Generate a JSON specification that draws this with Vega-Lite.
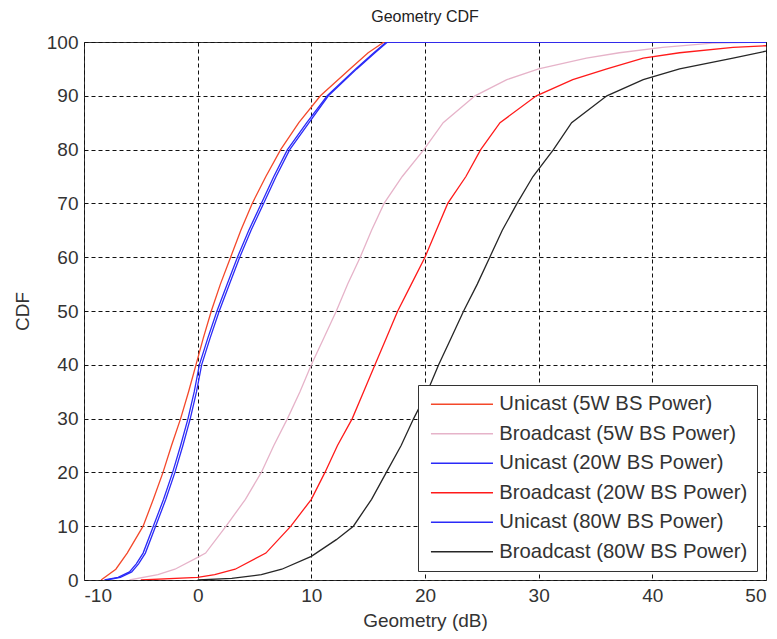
{
  "$schema": "https://vega.github.io/schema/vega-lite/v6.json",
  "width": 682,
  "height": 538,
  "autosize": "none",
  "padding": {"left": 84, "top": 42, "right": 11, "bottom": 59},
  "background": "white",
  "title": {"text": "Geometry CDF", "fontSize": 16, "fontWeight": "normal", "font": "Liberation Sans", "color": "#222", "offset": 8},
  "config": {
    "view": {"stroke": "#333", "strokeWidth": 1},
    "axis": {
      "labelFont": "Liberation Sans", "labelFontSize": 19, "labelColor": "#333",
      "titleFont": "Liberation Sans", "titleFontSize": 19, "titleFontWeight": "normal", "titleColor": "#333",
      "grid": true, "gridColor": "#111", "gridDash": [4, 3], "gridWidth": 1, "gridOpacity": 1,
      "ticks": false, "domain": false, "labelPadding": 6
    }
  },
  "data": {"values": [
    {"s": "Unicast (5W BS Power)", "x": -8.5, "y": 0},
    {"s": "Unicast (5W BS Power)", "x": -7.2, "y": 2},
    {"s": "Unicast (5W BS Power)", "x": -6.2, "y": 5},
    {"s": "Unicast (5W BS Power)", "x": -4.8, "y": 10},
    {"s": "Unicast (5W BS Power)", "x": -3.9, "y": 15},
    {"s": "Unicast (5W BS Power)", "x": -3.05, "y": 20},
    {"s": "Unicast (5W BS Power)", "x": -2.3, "y": 25},
    {"s": "Unicast (5W BS Power)", "x": -1.5, "y": 30},
    {"s": "Unicast (5W BS Power)", "x": -0.8, "y": 35},
    {"s": "Unicast (5W BS Power)", "x": -0.15, "y": 40},
    {"s": "Unicast (5W BS Power)", "x": 0.5, "y": 45},
    {"s": "Unicast (5W BS Power)", "x": 1.2, "y": 50},
    {"s": "Unicast (5W BS Power)", "x": 2.0, "y": 55},
    {"s": "Unicast (5W BS Power)", "x": 2.9, "y": 60},
    {"s": "Unicast (5W BS Power)", "x": 3.8, "y": 65},
    {"s": "Unicast (5W BS Power)", "x": 4.8, "y": 70},
    {"s": "Unicast (5W BS Power)", "x": 6.0, "y": 75},
    {"s": "Unicast (5W BS Power)", "x": 7.3, "y": 80},
    {"s": "Unicast (5W BS Power)", "x": 8.9, "y": 85},
    {"s": "Unicast (5W BS Power)", "x": 10.8, "y": 90},
    {"s": "Unicast (5W BS Power)", "x": 13.4, "y": 95},
    {"s": "Unicast (5W BS Power)", "x": 15.0, "y": 98},
    {"s": "Unicast (5W BS Power)", "x": 16.4, "y": 100},
    {"s": "Unicast (5W BS Power)", "x": 50, "y": 100},

    {"s": "Broadcast (5W BS Power)", "x": -6.0, "y": 0},
    {"s": "Broadcast (5W BS Power)", "x": -3.5, "y": 1},
    {"s": "Broadcast (5W BS Power)", "x": -2.0, "y": 2},
    {"s": "Broadcast (5W BS Power)", "x": 0.0, "y": 4.2},
    {"s": "Broadcast (5W BS Power)", "x": 0.7, "y": 5},
    {"s": "Broadcast (5W BS Power)", "x": 2.5, "y": 10},
    {"s": "Broadcast (5W BS Power)", "x": 4.2, "y": 15},
    {"s": "Broadcast (5W BS Power)", "x": 5.6, "y": 20},
    {"s": "Broadcast (5W BS Power)", "x": 6.7, "y": 25},
    {"s": "Broadcast (5W BS Power)", "x": 7.9, "y": 30},
    {"s": "Broadcast (5W BS Power)", "x": 9.0, "y": 35},
    {"s": "Broadcast (5W BS Power)", "x": 10.0, "y": 40},
    {"s": "Broadcast (5W BS Power)", "x": 11.1, "y": 45},
    {"s": "Broadcast (5W BS Power)", "x": 12.2, "y": 50},
    {"s": "Broadcast (5W BS Power)", "x": 13.2, "y": 55},
    {"s": "Broadcast (5W BS Power)", "x": 14.3, "y": 60},
    {"s": "Broadcast (5W BS Power)", "x": 15.3, "y": 65},
    {"s": "Broadcast (5W BS Power)", "x": 16.4, "y": 70},
    {"s": "Broadcast (5W BS Power)", "x": 18.0, "y": 75},
    {"s": "Broadcast (5W BS Power)", "x": 19.9, "y": 80},
    {"s": "Broadcast (5W BS Power)", "x": 21.6, "y": 85},
    {"s": "Broadcast (5W BS Power)", "x": 24.4, "y": 90},
    {"s": "Broadcast (5W BS Power)", "x": 27.2, "y": 93},
    {"s": "Broadcast (5W BS Power)", "x": 30.0, "y": 95},
    {"s": "Broadcast (5W BS Power)", "x": 34.2, "y": 97},
    {"s": "Broadcast (5W BS Power)", "x": 37.1, "y": 98},
    {"s": "Broadcast (5W BS Power)", "x": 40.9, "y": 99},
    {"s": "Broadcast (5W BS Power)", "x": 45.3, "y": 99.8},
    {"s": "Broadcast (5W BS Power)", "x": 50, "y": 100},

    {"s": "Unicast (20W BS Power)", "x": -8.2, "y": 0},
    {"s": "Unicast (20W BS Power)", "x": -7.0, "y": 0.5},
    {"s": "Unicast (20W BS Power)", "x": -6.0, "y": 1.5},
    {"s": "Unicast (20W BS Power)", "x": -5.4, "y": 3},
    {"s": "Unicast (20W BS Power)", "x": -4.8, "y": 5},
    {"s": "Unicast (20W BS Power)", "x": -3.9, "y": 10},
    {"s": "Unicast (20W BS Power)", "x": -3.0, "y": 15},
    {"s": "Unicast (20W BS Power)", "x": -2.2, "y": 20},
    {"s": "Unicast (20W BS Power)", "x": -1.5, "y": 25},
    {"s": "Unicast (20W BS Power)", "x": -0.85, "y": 30},
    {"s": "Unicast (20W BS Power)", "x": -0.3, "y": 35},
    {"s": "Unicast (20W BS Power)", "x": 0.15, "y": 40},
    {"s": "Unicast (20W BS Power)", "x": 0.9, "y": 45},
    {"s": "Unicast (20W BS Power)", "x": 1.7, "y": 50},
    {"s": "Unicast (20W BS Power)", "x": 2.6, "y": 55},
    {"s": "Unicast (20W BS Power)", "x": 3.5, "y": 60},
    {"s": "Unicast (20W BS Power)", "x": 4.5, "y": 65},
    {"s": "Unicast (20W BS Power)", "x": 5.6, "y": 70},
    {"s": "Unicast (20W BS Power)", "x": 6.7, "y": 75},
    {"s": "Unicast (20W BS Power)", "x": 7.9, "y": 80},
    {"s": "Unicast (20W BS Power)", "x": 9.6, "y": 85},
    {"s": "Unicast (20W BS Power)", "x": 11.4, "y": 90},
    {"s": "Unicast (20W BS Power)", "x": 13.9, "y": 95},
    {"s": "Unicast (20W BS Power)", "x": 15.5, "y": 98},
    {"s": "Unicast (20W BS Power)", "x": 16.6, "y": 100},
    {"s": "Unicast (20W BS Power)", "x": 50, "y": 100},

    {"s": "Broadcast (20W BS Power)", "x": -5.0, "y": 0},
    {"s": "Broadcast (20W BS Power)", "x": 0.0, "y": 0.5},
    {"s": "Broadcast (20W BS Power)", "x": 1.5, "y": 1},
    {"s": "Broadcast (20W BS Power)", "x": 3.3, "y": 2},
    {"s": "Broadcast (20W BS Power)", "x": 6.0, "y": 5},
    {"s": "Broadcast (20W BS Power)", "x": 8.2, "y": 10},
    {"s": "Broadcast (20W BS Power)", "x": 10.0, "y": 15},
    {"s": "Broadcast (20W BS Power)", "x": 11.2, "y": 20},
    {"s": "Broadcast (20W BS Power)", "x": 12.3, "y": 25},
    {"s": "Broadcast (20W BS Power)", "x": 13.6, "y": 30},
    {"s": "Broadcast (20W BS Power)", "x": 14.6, "y": 35},
    {"s": "Broadcast (20W BS Power)", "x": 15.6, "y": 40},
    {"s": "Broadcast (20W BS Power)", "x": 16.6, "y": 45},
    {"s": "Broadcast (20W BS Power)", "x": 17.6, "y": 50},
    {"s": "Broadcast (20W BS Power)", "x": 18.8, "y": 55},
    {"s": "Broadcast (20W BS Power)", "x": 20.0, "y": 60},
    {"s": "Broadcast (20W BS Power)", "x": 21.0, "y": 65},
    {"s": "Broadcast (20W BS Power)", "x": 22.0, "y": 70},
    {"s": "Broadcast (20W BS Power)", "x": 23.6, "y": 75},
    {"s": "Broadcast (20W BS Power)", "x": 24.9, "y": 80},
    {"s": "Broadcast (20W BS Power)", "x": 26.6, "y": 85},
    {"s": "Broadcast (20W BS Power)", "x": 29.8, "y": 90},
    {"s": "Broadcast (20W BS Power)", "x": 33.0, "y": 93},
    {"s": "Broadcast (20W BS Power)", "x": 36.0, "y": 95},
    {"s": "Broadcast (20W BS Power)", "x": 39.2, "y": 97},
    {"s": "Broadcast (20W BS Power)", "x": 42.4, "y": 98},
    {"s": "Broadcast (20W BS Power)", "x": 47.1, "y": 99},
    {"s": "Broadcast (20W BS Power)", "x": 50, "y": 99.3},

    {"s": "Unicast (80W BS Power)", "x": -8.0, "y": 0},
    {"s": "Unicast (80W BS Power)", "x": -6.8, "y": 0.5},
    {"s": "Unicast (80W BS Power)", "x": -5.8, "y": 1.5},
    {"s": "Unicast (80W BS Power)", "x": -5.2, "y": 3},
    {"s": "Unicast (80W BS Power)", "x": -4.6, "y": 5},
    {"s": "Unicast (80W BS Power)", "x": -3.7, "y": 10},
    {"s": "Unicast (80W BS Power)", "x": -2.8, "y": 15},
    {"s": "Unicast (80W BS Power)", "x": -2.0, "y": 20},
    {"s": "Unicast (80W BS Power)", "x": -1.3, "y": 25},
    {"s": "Unicast (80W BS Power)", "x": -0.65, "y": 30},
    {"s": "Unicast (80W BS Power)", "x": -0.1, "y": 35},
    {"s": "Unicast (80W BS Power)", "x": 0.35, "y": 40},
    {"s": "Unicast (80W BS Power)", "x": 1.1, "y": 45},
    {"s": "Unicast (80W BS Power)", "x": 1.9, "y": 50},
    {"s": "Unicast (80W BS Power)", "x": 2.8, "y": 55},
    {"s": "Unicast (80W BS Power)", "x": 3.7, "y": 60},
    {"s": "Unicast (80W BS Power)", "x": 4.7, "y": 65},
    {"s": "Unicast (80W BS Power)", "x": 5.8, "y": 70},
    {"s": "Unicast (80W BS Power)", "x": 6.9, "y": 75},
    {"s": "Unicast (80W BS Power)", "x": 8.1, "y": 80},
    {"s": "Unicast (80W BS Power)", "x": 9.8, "y": 85},
    {"s": "Unicast (80W BS Power)", "x": 11.5, "y": 90},
    {"s": "Unicast (80W BS Power)", "x": 14.0, "y": 95},
    {"s": "Unicast (80W BS Power)", "x": 15.6, "y": 98},
    {"s": "Unicast (80W BS Power)", "x": 16.7, "y": 100},
    {"s": "Unicast (80W BS Power)", "x": 50, "y": 100},

    {"s": "Broadcast (80W BS Power)", "x": 0.0, "y": 0},
    {"s": "Broadcast (80W BS Power)", "x": 3.0, "y": 0.3},
    {"s": "Broadcast (80W BS Power)", "x": 5.6, "y": 1},
    {"s": "Broadcast (80W BS Power)", "x": 7.4, "y": 2},
    {"s": "Broadcast (80W BS Power)", "x": 10.0, "y": 4.4},
    {"s": "Broadcast (80W BS Power)", "x": 12.2, "y": 7.5},
    {"s": "Broadcast (80W BS Power)", "x": 13.7, "y": 10},
    {"s": "Broadcast (80W BS Power)", "x": 15.3, "y": 15},
    {"s": "Broadcast (80W BS Power)", "x": 16.6, "y": 20},
    {"s": "Broadcast (80W BS Power)", "x": 17.9, "y": 25},
    {"s": "Broadcast (80W BS Power)", "x": 19.0, "y": 30},
    {"s": "Broadcast (80W BS Power)", "x": 20.2, "y": 35},
    {"s": "Broadcast (80W BS Power)", "x": 21.2, "y": 40},
    {"s": "Broadcast (80W BS Power)", "x": 22.3, "y": 45},
    {"s": "Broadcast (80W BS Power)", "x": 23.4, "y": 50},
    {"s": "Broadcast (80W BS Power)", "x": 24.6, "y": 55},
    {"s": "Broadcast (80W BS Power)", "x": 25.7, "y": 60},
    {"s": "Broadcast (80W BS Power)", "x": 26.8, "y": 65},
    {"s": "Broadcast (80W BS Power)", "x": 28.1, "y": 70},
    {"s": "Broadcast (80W BS Power)", "x": 29.5, "y": 75},
    {"s": "Broadcast (80W BS Power)", "x": 31.3, "y": 80},
    {"s": "Broadcast (80W BS Power)", "x": 32.9, "y": 85},
    {"s": "Broadcast (80W BS Power)", "x": 36.0, "y": 90},
    {"s": "Broadcast (80W BS Power)", "x": 39.2, "y": 93},
    {"s": "Broadcast (80W BS Power)", "x": 42.4, "y": 95},
    {"s": "Broadcast (80W BS Power)", "x": 47.1, "y": 97},
    {"s": "Broadcast (80W BS Power)", "x": 50, "y": 98.3}
  ]},
  "mark": {"type": "line", "strokeWidth": 1.3, "clip": true},
  "encoding": {
    "x": {"field": "x", "type": "quantitative",
      "scale": {"domain": [-10, 50], "nice": false, "zero": false},
      "axis": {"values": [-10, 0, 10, 20, 30, 40, 50], "labelExpr": "'' + datum.value", "title": "Geometry (dB)", "titlePadding": 6}},
    "y": {"field": "y", "type": "quantitative",
      "scale": {"domain": [0, 100], "nice": false},
      "axis": {"values": [0, 10, 20, 30, 40, 50, 60, 70, 80, 90, 100], "title": "CDF", "titlePadding": 14}},
    "color": {"field": "s", "type": "nominal",
      "scale": {
        "domain": ["Unicast (5W BS Power)", "Broadcast (5W BS Power)", "Unicast (20W BS Power)", "Broadcast (20W BS Power)", "Unicast (80W BS Power)", "Broadcast (80W BS Power)"],
        "range": ["#f4482a", "#e6b3c9", "#2a2af8", "#ff1a1a", "#2a2af8", "#262626"]},
      "legend": {
        "title": null, "orient": "none", "legendX": 334, "legendY": 343,
        "symbolType": "M-1,0H9", "symbolSize": 154, "symbolStrokeWidth": 1.5,
        "labelFont": "Liberation Sans", "labelFontSize": 20.3, "labelColor": "#333", "labelOffset": 52, "labelLimit": 400,
        "rowPadding": 8.5, "padding": 9,
        "strokeColor": "#333", "fillColor": "white"
      }
    }
  }
}
